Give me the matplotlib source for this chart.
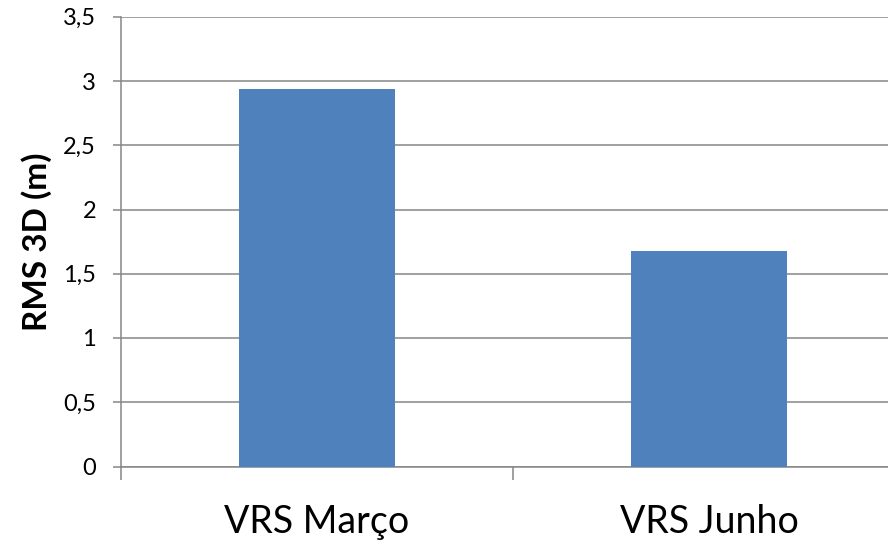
import matplotlib.pyplot as plt
from matplotlib.ticker import FixedLocator, FuncFormatter

categories = ["VRS Março", "VRS Junho"]
rms_3d = [2.94, 1.68]
yticks = [0, 0.5, 1, 1.5, 2, 2.5, 3, 3.5]

grid_gray = "#868686"
bar_blue = "#4F81BD"

plt.rcParams["font.family"] = ["Lato", "DejaVu Sans"]

fig = plt.figure(figsize=(8.88, 5.43), dpi=100)
ax = fig.add_axes([121 / 888, 76.5 / 543, 784 / 888, 449.75 / 543])

x = range(len(categories))
ax.bar(x, rms_3d, width=0.4, color=bar_blue, zorder=3)

ax.set_xlim(-0.5, 1.5)
ax.set_ylim(0, 3.5)
ax.set_yticks(yticks)
ax.yaxis.set_major_formatter(FuncFormatter(lambda v, p: f"{v:g}".replace(".", ",")))
ax.grid(axis="y", color=grid_gray, linewidth=1.1, zorder=0)

ax.set_xticks(list(x))
ax.set_xticklabels(categories, fontsize=27)
ax.xaxis.set_minor_locator(FixedLocator([-0.5, 0.5, 1.5]))
ax.tick_params(axis="x", which="major", length=0, pad=27)
ax.tick_params(axis="x", which="minor", length=9.5, width=1.1, color=grid_gray)
ax.tick_params(axis="y", length=6, width=1.1, color=grid_gray, labelsize=17, pad=12)

for side in ("top", "right"):
    ax.spines[side].set_visible(False)
for side in ("left", "bottom"):
    ax.spines[side].set_color(grid_gray)
    ax.spines[side].set_linewidth(1.1)

ax.set_ylabel("RMS 3D (m)", fontsize=24, fontweight="bold", labelpad=8)

fig.savefig("out.png", dpi=100)
